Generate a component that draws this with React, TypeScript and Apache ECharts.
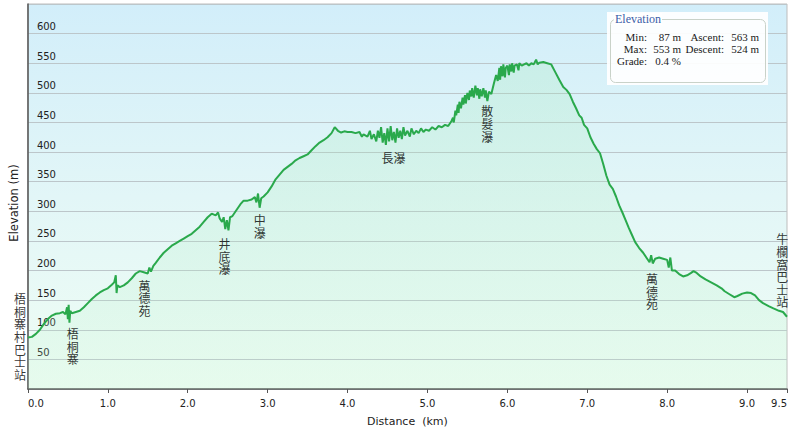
import React, { useEffect, useRef } from "react";
import * as echarts from "echarts";

// Profile: distance (km) and elevation (m)
const distanceKm = [
  0.0, 0.05, 0.1, 0.15, 0.2, 0.25, 0.3, 0.35, 0.4, 0.44, 0.47, 0.49, 0.5, 0.51, 0.52, 0.53, 0.55, 0.6, 0.65, 0.7,
  0.75, 0.8, 0.85, 0.9, 0.95, 1.0, 1.05, 1.08, 1.1, 1.11, 1.12, 1.15, 1.2, 1.25, 1.3, 1.35, 1.4, 1.45, 1.5, 1.52,
  1.54, 1.57, 1.6, 1.65, 1.7, 1.75, 1.8, 1.85, 1.9, 1.95, 2.0, 2.05, 2.1, 2.15, 2.2, 2.25, 2.3, 2.35, 2.38, 2.4,
  2.43, 2.45, 2.47, 2.49, 2.51, 2.53, 2.56, 2.6, 2.63, 2.66, 2.7, 2.75, 2.8, 2.84, 2.86, 2.88, 2.9, 2.92, 2.95, 3.0,
  3.05, 3.1, 3.15, 3.2, 3.25, 3.3, 3.35, 3.4, 3.45, 3.5, 3.55, 3.6, 3.65, 3.7, 3.75, 3.8, 3.84, 3.88, 3.92, 3.96,
  4.0, 4.05, 4.1, 4.15, 4.18, 4.2, 4.25, 4.28, 4.3, 4.33, 4.36, 4.38, 4.4, 4.42, 4.44, 4.46, 4.48, 4.5, 4.52, 4.54,
  4.56, 4.58, 4.6, 4.62, 4.64, 4.66, 4.68, 4.7, 4.72, 4.75, 4.78, 4.8, 4.83, 4.86, 4.89, 4.92, 4.95, 4.98, 5.02, 5.06,
  5.1, 5.14, 5.18, 5.22, 5.26,
  5.3, 5.32, 5.33, 5.35, 5.36, 5.38, 5.39, 5.4, 5.42, 5.44, 5.45, 5.47, 5.48, 5.5, 5.52, 5.53, 5.55, 5.56, 5.58, 5.6,
  5.62, 5.63, 5.65, 5.66, 5.68, 5.7, 5.72, 5.73, 5.75, 5.77, 5.8, 5.83, 5.86, 5.88, 5.9, 5.91, 5.92, 5.94, 5.95, 5.97,
  5.98, 6.0, 6.02, 6.03, 6.05, 6.06, 6.08, 6.09, 6.12, 6.14, 6.15, 6.18, 6.21, 6.24, 6.27, 6.3, 6.33, 6.36, 6.38, 6.4,
  6.45, 6.5,
  6.55, 6.6, 6.65, 6.7, 6.74, 6.78, 6.82, 6.86, 6.9, 6.93, 6.96, 7.0,
  7.04, 7.08, 7.12, 7.16, 7.2, 7.24, 7.28, 7.32, 7.36, 7.4, 7.44, 7.48, 7.52, 7.56, 7.6, 7.65, 7.7, 7.75, 7.78, 7.8,
  7.82, 7.85, 7.9, 7.95, 8.0, 8.02, 8.04, 8.06, 8.1, 8.15, 8.2, 8.25, 8.3, 8.33, 8.37, 8.42, 8.48, 8.55, 8.62, 8.68,
  8.72, 8.78, 8.84, 8.88, 8.94, 9.0, 9.05, 9.1, 9.15, 9.2, 9.27, 9.33, 9.4, 9.45, 9.5,
];
const elevationM = [
  87, 88, 93, 100, 110, 118, 124, 127, 128, 130, 126, 138, 118, 142, 112, 132, 128, 130, 132, 138,
  145, 152, 158, 163, 167, 170, 176, 180, 192, 162, 175, 172, 175, 180, 187, 195, 199, 197, 195, 205,
  198, 208, 213, 222, 230, 236, 242, 246, 250, 254, 258, 262, 268, 274, 282, 290, 296, 293, 298, 288,
  282, 290, 270, 285, 268, 290, 292, 300, 306, 312, 318, 318, 320, 324, 315, 330, 306, 322, 325, 332,
  342, 354, 362, 370, 375, 380, 386, 390, 393, 396, 403, 410, 416, 420, 425, 432, 442, 436, 433, 435,
  434, 434, 432, 434, 426, 430, 426, 436, 422, 430, 418, 436, 424, 442, 416, 432, 412, 440, 418, 444,
  420, 434, 416, 440, 424, 436, 422, 442, 428, 436, 426, 440, 430, 436, 432, 440, 434, 438, 436, 442,
  438, 444, 442, 446, 444,
  452, 458, 450, 470, 462, 480, 466, 485, 474, 492, 480, 496, 482, 500, 488, 504, 494, 508, 492, 512,
  496, 508, 490, 506, 494, 508, 492, 504, 486, 502, 498, 515, 530, 520, 542, 522, 545, 528, 548, 526,
  542, 546, 530, 548, 536, 550, 534, 546, 548, 538, 550, 546, 548, 550, 546, 550, 548, 556, 548, 551,
  552, 550,
  548, 535, 522, 510, 505, 498, 485, 474, 462, 458, 446, 440,
  425, 414, 405, 398, 380, 360, 345, 338, 325, 310, 298, 285, 272, 260, 248, 238, 230, 220, 214, 226,
  212, 220, 222, 220, 218, 205, 222, 200, 200, 194, 190, 192, 196, 199, 196, 190, 185, 180, 175, 170,
  165, 160, 155, 157, 161, 163, 162, 158, 150, 145, 140, 136, 132, 130, 122,
];

// Place names written along the profile (top of text at km / m)
const placeNames = ["梧桐寨村巴士站", "梧桐寨", "萬德苑", "井底瀑", "中瀑", "長瀑", "散髮瀑", "萬德苑", "牛欄窩巴士站"];
const placeKm = [-0.1, 0.5625, 1.46, 2.46, 2.9, 4.575, 5.75, 7.81, 9.44];
const placeElev = [164, 105, 187, 257, 297, 403, 481, 198, 265];
const placeVertical = [true, true, true, true, true, false, true, true, true];

// Summary box
const statTitle = "Elevation";
const statLabels = ["Min:", "Max:", "Grade:"];
const statValues = ["87 m", "553 m", "0.4 %"];
const stat2Labels = ["Ascent:", "Descent:"];
const stat2Values = ["563 m", "524 m"];

const Y_MAX = 650;

export default function App() {
  const ref = useRef<HTMLDivElement>(null);

  useEffect(() => {
    if (!ref.current) return;
    const chart = echarts.init(ref.current, undefined, { renderer: "svg" });

    const profile = distanceKm.map((d, i) => [d, elevationM[i]]);
    const places = placeNames.map((n, i) => [placeKm[i], placeElev[i], n]);

    const serif = "Liberation Serif";
    const statFont = `11px "${serif}"`;
    const lineY = [37, 49, 60.5];
    const txt = (text: string, x: number, y: number, align: string, fill = "#1a1a1a", extra: any = {}) => ({
      type: "text",
      x,
      y,
      z: 102,
      style: {
        text,
        fill,
        font: statFont,
        align,
        verticalAlign: "middle",
        textAlign: align,
        textVerticalAlign: "middle",
        ...extra,
      },
    });

    const graphic: any[] = [
      {
        type: "rect",
        z: 100,
        shape: { x: 607, y: 12, width: 161, height: 73 },
        style: { fill: "rgba(255,255,255,0.93)" },
      },
      {
        type: "rect",
        z: 101,
        shape: { x: 610.5, y: 19.5, width: 155, height: 63, r: 5 },
        style: { fill: "none", stroke: "#c9d2c9", lineWidth: 1 },
      },
      txt(statTitle, 614, 19, "left", "#3a5ea8", {
        backgroundColor: "#fff",
        padding: [0, 1],
        font: `12px "${serif}"`,
      }),
    ];
    statLabels.forEach((l, i) => graphic.push(txt(l, 647, lineY[i], "right")));
    statValues.forEach((v, i) => graphic.push(txt(v, 681, lineY[i], "right")));
    stat2Labels.forEach((l, i) => graphic.push(txt(l, 724, lineY[i], "right")));
    stat2Values.forEach((v, i) => graphic.push(txt(v, 759, lineY[i], "right")));

    const axisFont = "DejaVu Sans";

    chart.setOption({
      animation: false,
      backgroundColor: "#ffffff",
      grid: {
        left: 26,
        top: 4,
        width: 761,
        height: 385,
        show: true,
        borderColor: "#bdbdbd",
        borderWidth: 1,
        backgroundColor: new echarts.graphic.LinearGradient(0, 0, 0, 1, [
          { offset: 0, color: "#d2eefa" },
          { offset: 0.5, color: "#e2f6f7" },
          { offset: 1, color: "#effdf4" },
        ]),
      },
      xAxis: {
        type: "value",
        min: 0,
        max: 9.5,
        interval: 1,
        name: "Distance  (km)",
        nameLocation: "middle",
        nameGap: 27,
        nameTextStyle: { fontFamily: axisFont, fontSize: 11, color: "#222" },
        axisLine: { show: true, lineStyle: { color: "#555", width: 1.5 } },
        axisTick: { show: true, length: 4, lineStyle: { color: "#555" } },
        splitLine: { show: false },
        axisLabel: {
          fontFamily: axisFont,
          fontSize: 10,
          color: "#222",
          margin: 9,
          showMinLabel: true,
          showMaxLabel: true,
          alignMinLabel: "left",
          alignMaxLabel: "right",
          formatter: (v: number) => v.toFixed(1),
        },
      },
      yAxis: {
        type: "value",
        min: 0,
        max: Y_MAX,
        interval: 50,
        name: "Elevation (m)",
        nameLocation: "middle",
        nameRotate: 90,
        nameGap: 3,
        nameTextStyle: { fontFamily: axisFont, fontSize: 11.5, color: "#222", padding: [0, 13, 0, 0] },
        axisLine: { show: true, lineStyle: { color: "#555", width: 1.5 } },
        axisTick: { show: false },
        splitLine: { show: true, lineStyle: { color: "#bcc6ca", width: 1 } },
        axisLabel: {
          inside: true,
          margin: 9,
          fontFamily: axisFont,
          fontSize: 10,
          color: "#222",
          verticalAlign: "bottom",
          padding: [0, 0, 2, 0],
          formatter: (v: number) => (v === 0 || v >= Y_MAX ? "" : String(v)),
        },
      },
      series: [
        {
          type: "line",
          data: profile,
          showSymbol: false,
          symbol: "none",
          lineStyle: { color: "#2aa94c", width: 2 },
          areaStyle: {
            origin: "start",
            color: new echarts.graphic.LinearGradient(0, 0, 0, 1, [
              { offset: 0, color: "rgba(160,232,180,0.34)" },
              { offset: 1, color: "rgba(190,242,205,0.25)" },
            ]),
          },
          z: 3,
        },
        {
          type: "scatter",
          data: places,
          symbolSize: 1,
          clip: false,
          silent: true,
          itemStyle: { color: "rgba(0,0,0,0)" },
          z: 5,
          label: {
            show: true,
            position: "bottom",
            distance: 0,
            align: "center",
            verticalAlign: "top",
            fontFamily: "Noto Sans CJK TC",
            fontSize: 12,
            lineHeight: 12.6,
            color: "#000",
            formatter: (p: any) => {
              const name = placeNames[p.dataIndex];
              return placeVertical[p.dataIndex] ? name.split("").join("\n") : name;
            },
          },
        },
      ],
      graphic,
    });

    return () => chart.dispose();
  }, []);

  return (
    <div
      ref={ref}
      style={{ position: "fixed", left: 0, top: 0, width: 793, height: 435 }}
    />
  );
}
